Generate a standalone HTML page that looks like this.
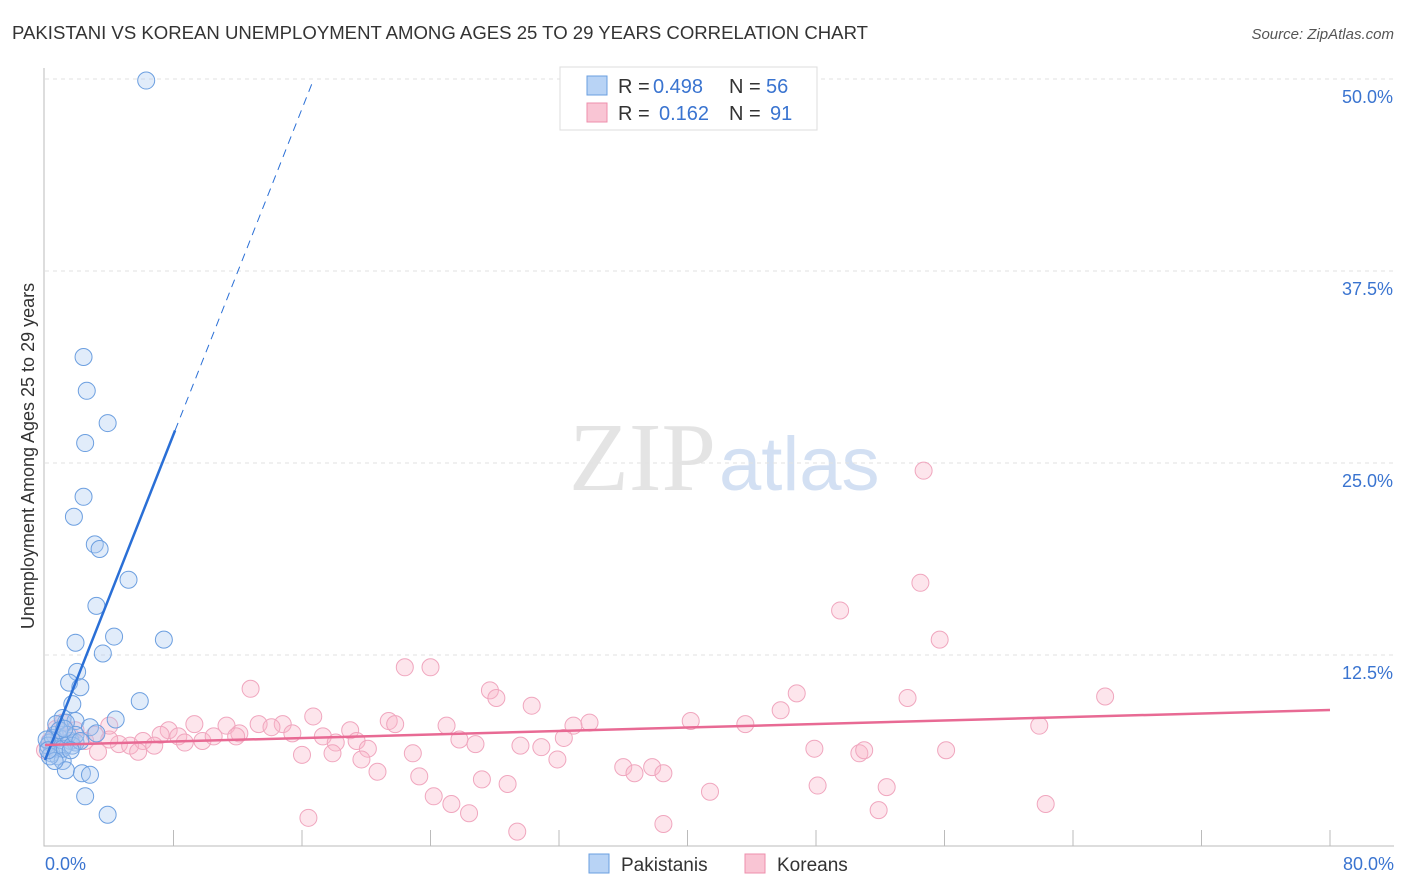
<!DOCTYPE html>
<html><head><meta charset="utf-8"><style>
body{margin:0;background:#fff;font-family:"Liberation Sans",sans-serif}
</style></head><body>
<svg id="c" width="1406" height="892" xmlns="http://www.w3.org/2000/svg" style="display:block">
<text x="12" y="39" font-size="18" fill="#333" textLength="856" lengthAdjust="spacingAndGlyphs">PAKISTANI VS KOREAN UNEMPLOYMENT AMONG AGES 25 TO 29 YEARS CORRELATION CHART</text>
<text x="1394" y="39" font-size="15" fill="#555" font-style="italic" text-anchor="end">Source: ZipAtlas.com</text>
<text x="716" y="490" font-size="98" fill="#e4e4e4" text-anchor="end" font-family="Liberation Serif,serif">ZIP</text>
<text x="719" y="490" font-size="76" fill="#d3e0f3">atlas</text>
<text transform="translate(34,456) rotate(-90)" font-size="18" fill="#333" text-anchor="middle">Unemployment Among Ages 25 to 29 years</text>
<g id="grid"></g><g id="pts"></g><g id="lines"></g>
<g>
<rect x="560" y="67" width="257" height="63" fill="#fff" stroke="#ddd"/>
<rect x="587" y="76" width="20" height="19" fill="#b8d3f5" stroke="#6a9fe0"/>
<rect x="587" y="103" width="20" height="19" fill="#f9c5d4" stroke="#ee8fac"/>
<text y="93" font-size="20" fill="#333"><tspan x="618">R =</tspan><tspan x="653" fill="#3a74d0">0.498</tspan><tspan x="729">N =</tspan><tspan x="766" fill="#3a74d0">56</tspan></text>
<text y="120" font-size="20" fill="#333"><tspan x="618">R =</tspan><tspan x="659" fill="#3a74d0">0.162</tspan><tspan x="729">N =</tspan><tspan x="770" fill="#3a74d0">91</tspan></text>
</g>
<g>
<rect x="589" y="854" width="20" height="19" fill="#b8d3f5" stroke="#6a9fe0"/>
<text x="621" y="871" font-size="19" fill="#333">Pakistanis</text>
<rect x="745" y="854" width="20" height="19" fill="#f9c5d4" stroke="#ee8fac"/>
<text x="777" y="871" font-size="19" fill="#333">Koreans</text>
</g>
</svg>
<script>
const yTicks=[12.5,25,37.5,50];
const yTickLabels=["12.5%","25.0%","37.5%","50.0%"];
const xTickLabels=["0.0%","80.0%"];
const pakX=[6.3,2.4,2.6,3.9,2.5,2.4,1.8,3.1,3.4,5.2,3.2,4.3,1.9,7.4,3.6,2.0,1.5,2.2,5.9,1.7,4.4,1.1,1.9,1.3,2.8,3.2,0.6,0.9,1.6,1.9,0.3,0.7,1.2,0.4,0.8,1.1,1.3,2.3,2.8,2.5,3.9,0.2,0.5,0.7,1.1,1.4,1.7,0.3,0.6,0.9,1.9,2.2,0.1,0.2,1.2,1.6];
const pakY=[49.9,31.9,29.7,27.6,26.3,22.8,21.5,19.7,19.4,17.4,15.7,13.7,13.3,13.5,12.6,11.4,10.7,10.4,9.5,9.3,8.3,8.4,8.2,8.1,7.8,7.4,7.3,7.1,6.9,6.8,6.8,6.4,6.6,6.1,5.9,5.6,5.0,4.8,4.7,3.3,2.1,6.6,7.1,8.0,6.4,7.3,6.6,5.9,5.6,7.6,7.3,6.9,7.0,6.3,7.7,6.3];
const korX=[54.7,54.5,49.5,55.7,22.4,24.0,12.8,27.7,28.1,30.3,46.8,53.7,66.0,45.8,25.0,33.9,40.2,43.6,61.9,21.4,21.8,32.9,16.7,13.3,14.8,14.1,9.3,11.3,7.7,7.2,8.3,12.1,11.9,19.0,25.8,26.8,29.6,30.9,32.3,15.4,17.3,18.1,19.4,20.1,9.8,10.5,4.6,5.3,6.1,6.8,4.0,3.3,5.8,8.7,4.0,22.9,16.0,17.9,19.7,47.9,50.7,51.0,56.1,31.9,36.0,37.8,36.7,38.5,20.7,23.3,27.2,28.8,48.1,52.4,41.4,24.2,25.3,62.3,51.9,26.4,16.4,38.5,29.4,1.1,0.3,1.6,2.5,0.7,1.9,3.1,0.0];
const korY=[24.5,17.2,15.4,13.5,11.7,11.7,10.3,10.2,9.7,9.2,10.0,9.7,9.8,8.9,7.9,8.1,8.2,8.0,7.9,8.2,8.0,7.9,8.5,8.0,8.0,7.8,8.0,7.9,7.6,7.3,7.2,7.4,7.2,7.6,7.0,6.7,6.6,6.5,7.1,7.4,7.2,6.8,6.9,6.4,6.9,7.2,6.7,6.6,6.9,6.6,7.0,6.2,6.2,6.8,7.9,6.1,6.0,6.1,5.7,6.4,6.1,6.3,6.3,5.7,5.2,5.2,4.8,4.8,4.9,4.6,4.4,4.1,4.0,3.9,3.6,3.3,2.8,2.8,2.4,2.2,1.9,1.5,1.0,8.1,6.9,7.2,6.9,7.7,7.6,7.3,6.3];
const pakLine=[5.66,2.65], korLine=[6.64,0.0285];
const X=v=>45+v*(1330-45)/80, Y=v=>847-v*15.36;
const NS="http://www.w3.org/2000/svg";
function mk(t,a,p){const e=document.createElementNS(NS,t);for(const k in a)e.setAttribute(k,a[k]);p.appendChild(e);return e;}
const g=document.getElementById('grid');
yTicks.forEach((t,i)=>{
 const l=mk('line',{x1:45,x2:1394,y1:Y(t),y2:Y(t),stroke:'#e2e2e2','stroke-dasharray':'4,4'},g);
 
 
 const tx=mk('text',{x:1393,y:Y(t)+24,'font-size':18,fill:'#3a74d0','text-anchor':'end'},g);
 tx.textContent=yTickLabels[i];
 
 
});
const ax=mk('path',{d:'M44,68V846H1394',stroke:'#bbb',fill:'none'},g);


for(let i=1;i<=10;i++){const t=mk('line',{x1:X(i*8),x2:X(i*8),y1:830,y2:846,stroke:'#bbb'},g);
 
 }
[[0,'start',45],[80,'end',1394]].forEach((d,i)=>{const t=mk('text',{x:d[2],y:870,'font-size':18,fill:'#3a74d0','text-anchor':d[1]},g);t.textContent=xTickLabels[i];
 
 });
const P=document.getElementById('pts');
korX.forEach((v,i)=>{const c=mk('circle',{cx:X(v),cy:Y(korY[i]),r:8.5,fill:'rgba(248,180,200,0.35)',stroke:'#f0a6be','stroke-width':1},P);
 
 });
pakX.forEach((v,i)=>{const c=mk('circle',{cx:X(v),cy:Y(pakY[i]),r:8.5,fill:'rgba(170,200,240,0.35)',stroke:'#6c9fe0','stroke-width':1},P);
 
 });
const L=document.getElementById('lines');
const xe=8.1, xd=(50-pakLine[0])/pakLine[1];
let a=mk('line',{x1:X(0),y1:Y(pakLine[0]),x2:X(xe),y2:Y(pakLine[0]+pakLine[1]*xe),stroke:'#2a6fd6','stroke-width':2.5},L);


a=mk('line',{x1:X(xe),y1:Y(pakLine[0]+pakLine[1]*xe),x2:X(xd),y2:Y(50),stroke:'#2a6fd6','stroke-width':1,'stroke-dasharray':'8,6'},L);


a=mk('line',{x1:X(0),y1:Y(korLine[0]),x2:X(80),y2:Y(korLine[0]+korLine[1]*80),stroke:'#e86a94','stroke-width':2.5},L);


</script>
</body></html>
